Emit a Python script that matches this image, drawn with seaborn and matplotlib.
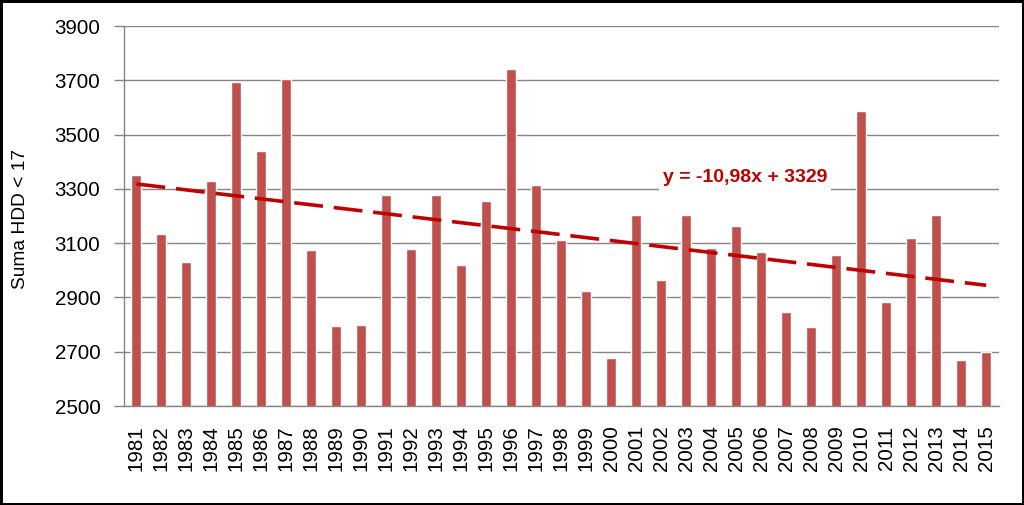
import matplotlib
matplotlib.use("Agg")
import matplotlib.pyplot as plt
import seaborn as sns
import numpy as np
import pandas as pd

years = [str(y) for y in range(1981, 2016)]
hdd = [3350, 3133, 3030, 3328, 3693, 3439, 3704, 3074, 2795, 2798,
       3277, 3078, 3277, 3019, 3255, 3740, 3313, 3111, 2923, 2677,
       3203, 2964, 3203, 3082, 3163, 3067, 2846, 2791, 3056, 3586,
       2883, 3118, 3203, 2669, 2698]
trend_slope = -10.98
trend_intercept = 3329
trend_label = "y = -10,98x + 3329"
y_label = "Suma HDD < 17"
y_ticks = [2500, 2700, 2900, 3100, 3300, 3500, 3700, 3900]

sns.set_theme(style="white")
plt.rcParams['font.family'] = ['Liberation Sans', 'DejaVu Sans']

df = pd.DataFrame({"year": years, "hdd": hdd})

fig = plt.figure(figsize=(10.24, 5.05), dpi=100, edgecolor="black", linewidth=2.5)
ax = fig.add_axes([124/1024, 1 - 406/505, (998.7 - 124)/1024, (406 - 26)/505])

grid_col = "#868686"
ax.set_axisbelow(True)
ax.yaxis.grid(True, color=grid_col, linewidth=1)

sns.barplot(data=df, x="year", y="hdd", color="#C0504D", saturation=1,
            width=0.4, ax=ax, zorder=2)

# trend line
xi = np.arange(len(years))
trend = trend_slope * (xi + 1) + trend_intercept
ax.plot(xi, trend, color="#C00000", linewidth=2.6, dashes=(8, 3.0), zorder=3,
        solid_capstyle="butt", dash_capstyle="butt")

ax.text(24.35, 3340, trend_label, color="#C00000", fontsize=14, fontweight="bold",
        ha="center", va="center", zorder=4,
        bbox=dict(facecolor="white", edgecolor="none", pad=3))

ax.set_ylim(2500, 3900)
ax.set_xlim(-0.5, len(years) - 0.5)
ax.set_yticks(y_ticks)
ax.set_yticklabels([str(t) for t in y_ticks], fontsize=14.8, color="black")
ax.set_xticks(xi)
ax.set_xticklabels(years, rotation=90, fontsize=14.8, color="black")
ax.set_xticks(np.arange(-0.5, len(years)), minor=True)
ax.tick_params(axis="x", which="major", length=0, pad=14)
ax.tick_params(axis="x", which="minor", length=6, width=1, color=grid_col, direction="out")
ax.tick_params(axis="y", which="major", length=7, width=1, color=grid_col, pad=10, left=True)

ax.set_xlabel("")
ax.set_ylabel(y_label, fontsize=13.8, color="black")
ax.yaxis.set_label_coords(-(124 - 29) / (998.7 - 124), (406 - 219) / 380)

for s in ["top", "right"]:
    ax.spines[s].set_visible(False)
for s in ["left", "bottom"]:
    ax.spines[s].set_color(grid_col)
    ax.spines[s].set_linewidth(1)

fig.savefig("out.png", dpi=100, edgecolor=fig.get_edgecolor(), facecolor="white")
